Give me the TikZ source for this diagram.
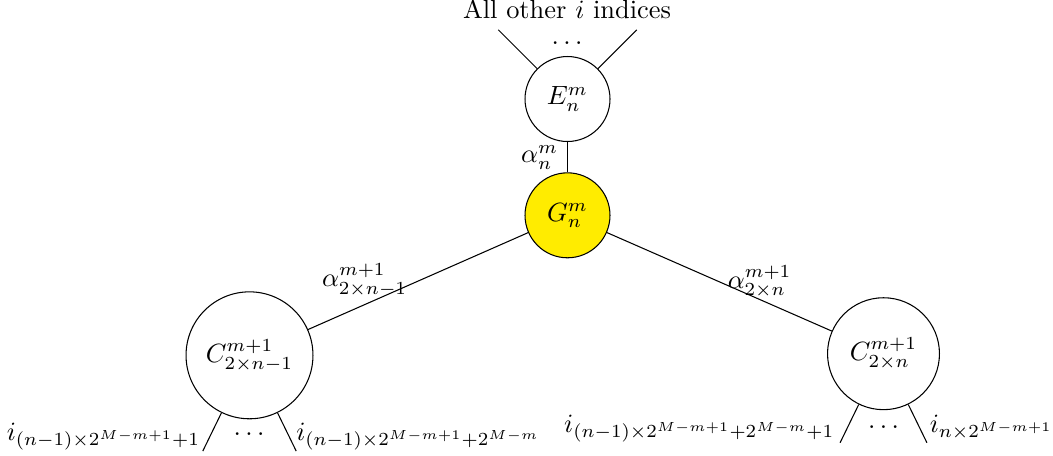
\documentclass[tikz,border=0pt]{standalone}
\usetikzlibrary{calc}
\definecolor{gyellow}{RGB}{255,236,0}
\begin{document}
\begin{tikzpicture}[x=0.013316cm,y=-0.013316cm,
  circ/.style={draw,circle,inner sep=0pt},
  leg/.style={line width=0.4pt}]
\useasboundingbox (0,0) rectangle (1053,455);
% nodes
\node[circ,minimum size=1.132cm] (E) at (567.5,99) {$E_n^m$};
\node[circ,minimum size=1.132cm,fill=gyellow] (G) at (567.5,215.3) {$G_n^m$};
\node[circ,minimum size=1.691cm] (C1) at (249.5,355.3) {$C_{2\times n-1}^{m+1}$};
\node[circ,minimum size=1.491cm] (C2) at (883.5,353.7) {$C_{2\times n}^{m+1}$};
% top
\draw[leg] (E.135) -- ++(135:0.73cm) coordinate (t1);
\draw[leg] (E.45) -- ++(45:0.73cm) coordinate (t2);
\node (tdots) at (567,43) {$\dots$};
\node[anchor=base] (top) at (567,18) {All other $i$ indices};
% edges
\draw (E) -- (G) node[midway,left] (aE) {$\alpha_n^m$};
\draw (G) -- (C1);
\draw (G) -- (C2);
\node (a1) at (364.7,280) {$\alpha_{2\times n-1}^{m+1}$};
\node (a2) at (759.7,281.7) {$\alpha_{2\times n}^{m+1}$};
% bottom legs
\draw[leg] (C1.-116) -- ++(-116:0.567cm) coordinate (b1);
\draw[leg] (C1.-64) -- ++(-64:0.567cm) coordinate (b2);
\draw[leg] (C2.-116) -- ++(-116:0.567cm) coordinate (b3);
\draw[leg] (C2.-64) -- ++(-64:0.567cm) coordinate (b4);
\node (d1) at (249,434) {$\dots$};
\node (d2) at (883.5,427) {$\dots$};
\node[anchor=base east] (l1) at (209.5,440) {$i_{(n-1)\times 2^{M-m+1}+1}$};
\node[anchor=base west] (l2) at (287,440) {$i_{(n-1)\times 2^{M-m+1}+2^{M-m}}$};
\node[anchor=base east] (l3) at (843.8,432) {$i_{(n-1)\times 2^{M-m+1}+2^{M-m}+1}$};
\node[anchor=base west] (l4) at (920.5,432) {$i_{n\times 2^{M-m+1}}$};
\end{tikzpicture}
\end{document}
